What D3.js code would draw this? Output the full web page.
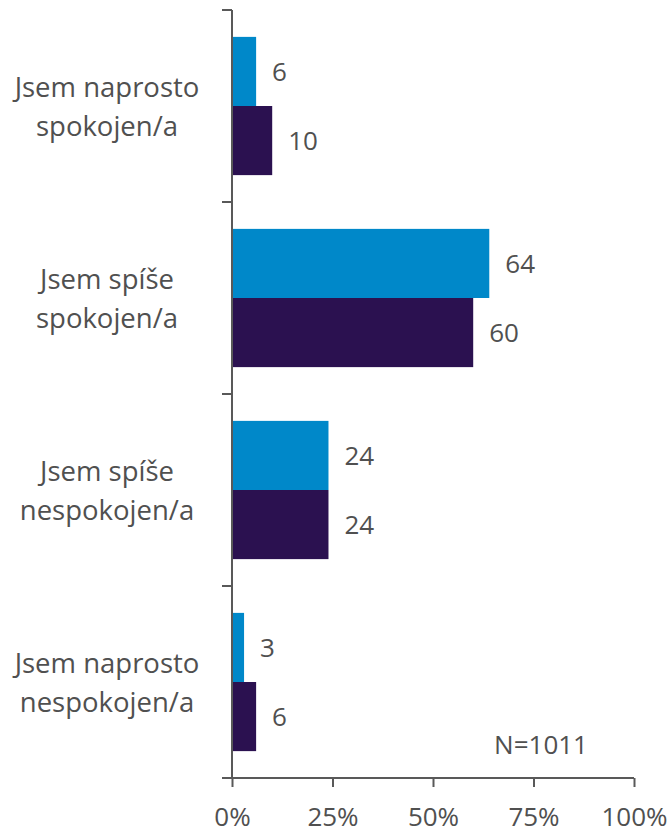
<!DOCTYPE html>
<html>
<head>
<meta charset="utf-8">
<script src="https://cdn.jsdelivr.net/npm/d3@7"></script>
<style>
  body { margin: 0; background: #fff; }
  text { font-family: "Open Sans", sans-serif; fill: #505050; }
</style>
</head>
<body>
<div id="chart"></div>
<script>
// categories, top to bottom
var categories = [
  ["Jsem naprosto", "spokojen/a"],
  ["Jsem spíše", "spokojen/a"],
  ["Jsem spíše", "nespokojen/a"],
  ["Jsem naprosto", "nespokojen/a"]
];
var seriesA = [6, 64, 24, 3];   // light blue
var seriesB = [10, 60, 24, 6];  // dark purple
var xTicks = [0, 25, 50, 75, 100];
var note = "N=1011";

var width = 672, height = 833;
var margin = {top: 10, left: 232, right: 38, bottom: 55};

var svg = d3.select("#chart").append("svg")
    .attr("width", width)
    .attr("height", height);

var x = d3.scaleLinear()
    .domain([0, 100])
    .range([margin.left, width - margin.right]);

var y = d3.scaleBand()
    .domain(d3.range(categories.length))
    .range([margin.top, height - margin.bottom])
    .paddingInner(0.28)
    .paddingOuter(0.14);

var inner = d3.scaleBand()
    .domain([0, 1])
    .range([0, y.bandwidth()]);

var colors = ["#0088c9", "#2b1150"];
var series = [seriesA, seriesB];

var bars = svg.append("g");
series.forEach(function(vals, s) {
  bars.selectAll(".bar" + s)
      .data(vals)
    .enter().append("rect")
      .attr("x", x(0))
      .attr("y", function(d, i) { return y(i) + inner(s); })
      .attr("width", function(d) { return x(d) - x(0); })
      .attr("height", inner.bandwidth())
      .attr("fill", colors[s]);

  bars.selectAll(".lab" + s)
      .data(vals)
    .enter().append("text")
      .attr("x", function(d) { return x(d) + 16; })
      .attr("y", function(d, i) { return y(i) + inner(s) + inner.bandwidth() / 2; })
      .attr("dy", "0.36em")
      .style("font-size", "26px")
      .text(function(d) { return d; });
});

// y axis line with category separators
var yAxis = svg.append("g");
var bounds = [margin.top].concat(d3.range(categories.length).map(function(i) {
  return y(i) + y.bandwidth() + y.step() * y.paddingInner() / 2;
}));
bounds[bounds.length - 1] = height - margin.bottom;
yAxis.append("line")
    .attr("x1", x(0)).attr("x2", x(0))
    .attr("y1", margin.top).attr("y2", height - margin.bottom)
    .attr("stroke", "#595959").attr("stroke-width", 2);
yAxis.selectAll(".sep")
    .data(bounds)
  .enter().append("line")
    .attr("x1", x(0) - 10).attr("x2", x(0))
    .attr("y1", function(d) { return d; })
    .attr("y2", function(d) { return d; })
    .attr("stroke", "#595959").attr("stroke-width", 2);

// category labels
svg.append("g").selectAll("text")
    .data(categories)
  .enter().append("text")
    .attr("text-anchor", "middle")
    .attr("x", 107)
    .attr("y", function(d, i) { return y(i) + y.bandwidth() / 2; })
    .style("font-size", "27.5px")
    .each(function(d) {
      var t = d3.select(this);
      t.append("tspan").attr("x", 107).attr("dy", -9).text(d[0]);
      t.append("tspan").attr("x", 107).attr("dy", 39).text(d[1]);
    });

// x axis
var xAxis = svg.append("g")
    .attr("transform", "translate(0," + (height - margin.bottom) + ")")
    .call(d3.axisBottom(x).tickValues(xTicks)
      .tickFormat(function(d) { return d + "%"; })
      .tickSize(9).tickPadding(21));
xAxis.select(".domain").remove();
xAxis.append("line")
    .attr("x1", x(0) - 10).attr("x2", x(100))
    .attr("stroke", "#595959").attr("stroke-width", 2);
xAxis.selectAll(".tick line").attr("stroke", "#595959").attr("stroke-width", 2);
xAxis.selectAll(".tick text")
    .style("font-size", "26px")
    .style("font-family", "'Open Sans', sans-serif")
    .attr("fill", "#505050");

svg.append("text")
    .attr("x", 588)
    .attr("y", 754)
    .attr("text-anchor", "end")
    .style("font-size", "26px")
    .text(note);
</script>
</body>
</html>
